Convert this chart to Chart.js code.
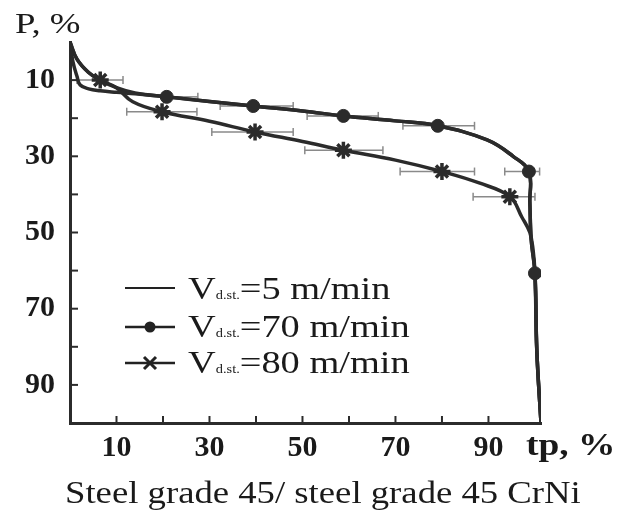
<!DOCTYPE html>
<html>
<head>
<meta charset="utf-8">
<script src="https://cdn.jsdelivr.net/npm/chart.js@4.4.1/dist/chart.umd.min.js"></script>
<style>
  body { margin: 0; background: #fff; }
  #wrap { position: relative; width: 634px; height: 512px; font-family: 'Liberation Serif', 'DejaVu Serif', serif; color: #1a1a1a; }
  .txt { position: absolute; white-space: nowrap; line-height: 1; transform-origin: left top; }
  .legtxt { font-size: 32px; transform: scaleX(1.2); }
  .sub { font-size: 12px; }
  .sample { position: absolute; left: 125px; }
</style>
</head>
<body>
<div id="wrap">
  <canvas id="chart" width="634" height="512"></canvas>
  <div class="txt" style="left:15px;top:9px;font-size:29px;transform:scaleX(1.27)">P, %</div>
  <div class="txt" style="left:526px;top:428px;font-size:32px;font-weight:bold;transform:scaleX(1.17)">tp, %</div>
  <div class="txt" style="left:65px;top:476px;font-size:32px;transform:scaleX(1.147)">Steel grade 45/ steel grade 45 CrNi</div>

  <svg class="sample" style="top:278px" width="50" height="20"><line x1="0" y1="10" x2="50" y2="10" stroke="#222" stroke-width="2"/></svg>
  <div class="txt legtxt" style="left:188px;top:272px">V<span class="sub">d.st.</span>=5 m/min</div>

  <svg class="sample" style="top:317px" width="50" height="20"><line x1="0" y1="10" x2="50" y2="10" stroke="#222" stroke-width="2.5"/><circle cx="25" cy="10" r="5.5" fill="#222"/></svg>
  <div class="txt legtxt" style="left:188px;top:310px">V<span class="sub">d.st.</span>=70 m/min</div>

  <svg class="sample" style="top:353px" width="50" height="20"><line x1="0" y1="10" x2="50" y2="10" stroke="#222" stroke-width="2.5"/><path d="M19 4 L31 16 M31 4 L19 16" stroke="#222" stroke-width="3"/></svg>
  <div class="txt legtxt" style="left:188px;top:346px">V<span class="sub">d.st.</span>=80 m/min</div>
</div>
<script>
// tick values
const tickValues = [10, 20, 30, 40, 50, 60, 70, 80, 90];
const labeledTicks = [10, 30, 50, 70, 90];

// V = 5 m/min (plain curve)
const tp5 = [0, 0.6, 1.5, 2.2, 4, 6.5, 10, 14, 20.8, 30, 39.4, 50, 58.8, 70, 79.1, 89.7, 95.3, 98.7, 98.9, 99.2, 100, 100.4, 101.3];
const p5  = [0, 5, 9, 11.3, 12.3, 12.8, 13.2, 13.6, 14.4, 15.6, 16.8, 18.1, 19.4, 20.7, 22, 25.7, 30, 34, 42, 52, 60.7, 81, 100];

// V = 70 m/min curve and its markers
const tp70 = [0, 1.5, 4, 6.5, 10, 14, 20.8, 30, 39.4, 50, 58.8, 70, 79.1, 89.7, 95.3, 98.7, 98.9, 99.2, 100, 100.4, 101.3];
const p70  = [0, 4.5, 8, 10, 12, 13.4, 14.4, 15.6, 16.8, 18.1, 19.4, 20.7, 22, 25.7, 30, 34, 42, 52, 60.7, 81, 100];
const tp70Marks = [20.8, 39.4, 58.8, 79.1, 98.7, 100];
const p70Marks  = [14.4, 16.8, 19.4, 22, 34, 60.7];
const tp70Low   = [20.8, 32.3, 51, 71.6, 93.5];
const tp70High  = [27.5, 48, 66.3, 87, 101];

// V = 80 m/min curve and its markers
const tp80 = [0, 1.5, 4, 6.5, 10, 13.5, 19.8, 30, 39.8, 50, 58.8, 70, 80, 88, 94.6, 97.2, 98.9, 99.6, 100, 100.4, 101.3];
const p80  = [0, 4.5, 8, 10, 12, 15.7, 18.3, 20.8, 23.6, 26.1, 28.4, 31, 34, 37, 40.6, 46, 50, 54.6, 60.7, 81, 100];
const tp80Marks = [6.5, 19.8, 39.8, 58.8, 80, 94.6];
const p80Marks  = [10, 18.3, 23.6, 28.4, 34, 40.6];
const tp80Low   = [1.5, 12.2, 30.5, 50.5, 71, 86.7];
const tp80High  = [11.4, 27.3, 48, 67.3, 87, 100];

const ink = '#2b2b2b';
const toPts = (xs, ys) => xs.map((x, i) => ({ x: x, y: ys[i] }));

function errorBars(lows, highs, ys) {
    return lows.map((lo, i) => ({
        data: [{ x: lo, y: ys[i] }, { x: highs[i], y: ys[i] }],
        borderColor: '#8a8a8a',
        borderWidth: 1.5,
        pointStyle: 'line',
        rotation: 90,
        pointRadius: 4,
        pointBorderColor: '#8a8a8a',
        pointBorderWidth: 1.5,
        order: 3
    }));
}

const curve = (xs, ys) => ({
    data: toPts(xs, ys),
    borderColor: ink,
    borderWidth: 3.5,
    pointRadius: 0,
    tension: 0.4,
    order: 2
});

const datasets = [
    { data: toPts(tp70Marks, p70Marks), showLine: false, pointStyle: 'circle', pointRadius: 6.5,
      backgroundColor: ink, borderColor: ink, order: 1 },
    { data: toPts(tp80Marks, p80Marks), showLine: false, pointStyle: 'star', pointRadius: 8.5,
      borderColor: ink, borderWidth: 3.5, order: 1 },
    curve(tp5, p5),
    curve(tp70, p70),
    curve(tp80, p80),
    ...errorBars(tp70Low, tp70High, p70Marks),
    ...errorBars(tp80Low, tp80High, p80Marks)
];

const innerTicks = {
    id: 'innerTicks',
    afterDraw(chart) {
        const { ctx, chartArea, scales } = chart;
        ctx.save();
        ctx.strokeStyle = ink;
        ctx.lineWidth = 2;
        tickValues.forEach(v => {
            const px = scales.x.getPixelForValue(v);
            ctx.beginPath();
            ctx.moveTo(px, chartArea.bottom);
            ctx.lineTo(px, chartArea.bottom - 7);
            ctx.stroke();
            const py = scales.y.getPixelForValue(v);
            ctx.beginPath();
            ctx.moveTo(chartArea.left, py);
            ctx.lineTo(chartArea.left + 8, py);
            ctx.stroke();
        });
        ctx.restore();
    }
};

const tickFont = { family: "'Liberation Serif', serif", size: 30, weight: 'bold' };

new Chart(document.getElementById('chart'), {
    type: 'line',
    data: { datasets: datasets },
    options: {
        responsive: false,
        animation: false,
        layout: { padding: { top: 42, right: 93, left: 0, bottom: 0 } },
        plugins: { legend: { display: false }, tooltip: { enabled: false } },
        scales: {
            x: {
                type: 'linear',
                min: 0,
                max: 101.3,
                afterFit: scale => { scale.height = 89; },
                grid: { drawOnChartArea: false, drawTicks: false },
                border: { color: ink, width: 3 },
                ticks: {
                    stepSize: 10,
                    padding: 7,
                    color: '#1a1a1a',
                    font: tickFont,
                    maxRotation: 0,
                    autoSkip: false,
                    callback: v => labeledTicks.includes(v) ? String(v) : ''
                }
            },
            y: {
                type: 'linear',
                reverse: true,
                min: 0,
                max: 100,
                afterFit: scale => { scale.width = 70; },
                grid: { drawOnChartArea: false, drawTicks: false },
                border: { color: ink, width: 3 },
                ticks: {
                    stepSize: 10,
                    padding: 15,
                    color: '#1a1a1a',
                    font: tickFont,
                    autoSkip: false,
                    callback: v => labeledTicks.includes(v) ? String(v) : ''
                }
            }
        }
    },
    plugins: [innerTicks]
});
</script>
</body>
</html>
